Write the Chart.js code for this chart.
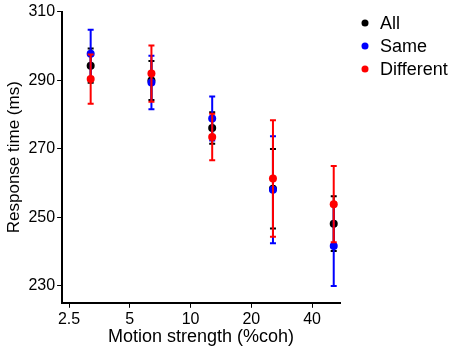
<!DOCTYPE html>
<html>
<head>
<meta charset="utf-8">
<script src="https://cdn.jsdelivr.net/npm/chart.js@4"></script>
<style>
  html, body { margin: 0; padding: 0; background: #fff; }
  #wrap { width: 453px; height: 349px; }
</style>
</head>
<body>
<div id="wrap"><canvas id="rtChart"></canvas></div>
<script>
// motion coherence levels (%coh)
const coherence = [3.2, 6.4, 12.8, 25.6, 51.2];
const xTicks = [2.5, 5, 10, 20, 40];
const yTicks = [230, 250, 270, 290, 310];

// mean response times (ms) and error (+/-)
const allRT = [294.2, 289.9, 276.0, 258.3, 248.1];
const allErr = [5.0, 5.7, 4.6, 11.6, 8.0];
const sameRT = [297.7, 289.3, 278.8, 258.0, 241.6];
const sameErr = [7.0, 7.8, 6.4, 15.6, 11.7];
const diffRT = [290.3, 291.9, 273.4, 261.3, 253.8];
const diffErr = [7.2, 8.2, 6.8, 17.0, 11.1];

function toPoints(ys) {
    return coherence.map((x, i) => ({ x: x, y: ys[i] }));
}

// draws vertical error bars for each dataset just before its points
const errorBars = {
    id: 'errorBars',
    beforeDatasetDraw(chart, args) {
        const ds = chart.data.datasets[args.index];
        if (!ds.errors) return;
        const xs = chart.scales.x, ys = chart.scales.y;
        const ctx = chart.ctx;
        ctx.save();
        ctx.strokeStyle = ds.borderColor;
        ctx.lineWidth = 2;
        ds.data.forEach((p, i) => {
            const px = xs.getPixelForValue(p.x);
            const top = ys.getPixelForValue(p.y + ds.errors[i]);
            const bot = ys.getPixelForValue(p.y - ds.errors[i]);
            ctx.beginPath();
            ctx.moveTo(px, top); ctx.lineTo(px, bot);
            ctx.moveTo(px - 3, top); ctx.lineTo(px + 3, top);
            ctx.moveTo(px - 3, bot); ctx.lineTo(px + 3, bot);
            ctx.stroke();
        });
        ctx.restore();
    }
};

// simple legend in the top right corner, outside the plot
const dotLegend = {
    id: 'dotLegend',
    afterDraw(chart) {
        const ctx = chart.ctx;
        const left = chart.chartArea.right + 25;
        ctx.save();
        ctx.font = '18px "Liberation Sans", Arial, sans-serif';
        ctx.textBaseline = 'middle';
        chart.data.datasets.forEach((ds, i) => {
            const y = 23 + i * 23;
            ctx.fillStyle = ds.backgroundColor;
            ctx.beginPath();
            ctx.arc(left, y, 3.5, 0, Math.PI * 2);
            ctx.fill();
            ctx.fillStyle = '#000';
            ctx.fillText(ds.label, left + 15, y + 1);
        });
        ctx.restore();
    }
};

const ctx = document.getElementById('rtChart').getContext('2d');
Chart.defaults.font.family = '"Liberation Sans", Arial, sans-serif';
Chart.defaults.color = '#000';

new Chart(ctx, {
    type: 'scatter',
    data: {
        datasets: [
            { label: 'All', data: toPoints(allRT), errors: allErr, order: 2,
              backgroundColor: '#000', borderColor: '#000' },
            { label: 'Same', data: toPoints(sameRT), errors: sameErr, order: 1,
              backgroundColor: '#0000ff', borderColor: '#0000ff' },
            { label: 'Different', data: toPoints(diffRT), errors: diffErr, order: 0,
              backgroundColor: '#ff0000', borderColor: '#ff0000' }
        ]
    },
    options: {
        responsive: true,
        maintainAspectRatio: false,
        animation: false,
        elements: { point: { radius: 4, borderWidth: 0, hoverRadius: 4 } },
        layout: { padding: { top: 8, left: 4, right: 113, bottom: 0 } },
        plugins: {
            tooltip: { enabled: false },
            legend: { display: false }
        },
        scales: {
            x: {
                type: 'logarithmic',
                min: 2.31,
                max: 55,
                afterBuildTicks: (axis) => { axis.ticks = xTicks.map(v => ({ value: v })); },
                ticks: {
                    font: { size: 16 },
                    padding: 2,
                    maxRotation: 0,
                    callback: (v) => String(v)
                },
                grid: { display: true, drawOnChartArea: false, drawTicks: true, tickLength: 5, color: '#000', lineWidth: 1 },
                border: { display: true, color: '#000', width: 2 },
                title: { display: true, text: 'Motion strength (%coh)', font: { size: 18, lineHeight: 1 }, padding: { top: -3, bottom: 3 } }
            },
            y: {
                min: 225,
                max: 310,
                afterBuildTicks: (axis) => { axis.ticks = yTicks.map(v => ({ value: v })); },
                ticks: { font: { size: 16 }, padding: 2 },
                grid: { display: true, drawOnChartArea: false, drawTicks: true, tickLength: 5, color: '#000', lineWidth: 1 },
                border: { display: true, color: '#000', width: 2 },
                title: { display: true, text: 'Response time (ms)', font: { size: 17 }, padding: { top: 0, bottom: 2 } }
            }
        }
    },
    plugins: [errorBars, dotLegend]
});
</script>
</body>
</html>
